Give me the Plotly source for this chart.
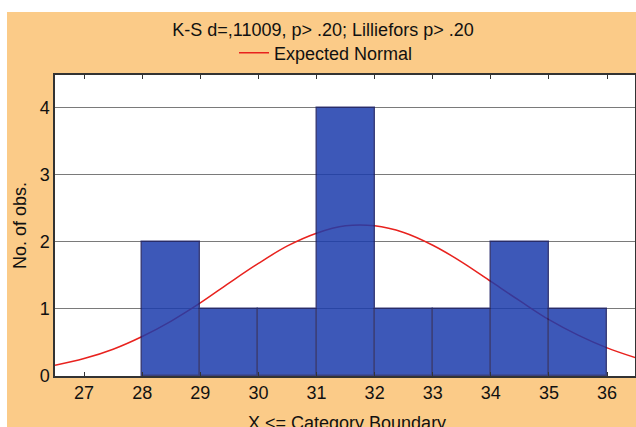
import plotly.graph_objects as go

# Histogram bins (upper category boundaries) and observed counts
bin_left = [28, 29, 30, 31, 32, 33, 34, 35]
counts = [2, 1, 1, 4, 1, 1, 2, 1]

# Expected normal curve
curve_x = [26.5, 27, 27.5, 28, 28.5, 29, 29.5, 30, 30.5, 31, 31.5,
           32, 32.5, 33, 33.5, 34, 34.5, 35, 35.5, 36, 36.5]
curve_y = [0.16, 0.26, 0.40, 0.59, 0.82, 1.09, 1.39, 1.68, 1.94, 2.13, 2.24,
           2.24, 2.14, 1.95, 1.70, 1.41, 1.12, 0.84, 0.61, 0.42, 0.27]

x_ticks = [27, 28, 29, 30, 31, 32, 33, 34, 35, 36]
y_ticks = [0, 1, 2, 3, 4]

title_text = "K-S d=,11009, p> .20; Lilliefors p> .20"
x_title = "X <= Category Boundary"

ORANGE = "#FBCB88"
FONT = "Liberation Sans, Arial, sans-serif"
X_RANGE = [26.5, 36.48]
Y_RANGE = [0, 4.49]

fig = go.Figure()

# curve on the main subplot (drawn first, below)
fig.add_trace(go.Scatter(
    x=curve_x, y=curve_y, mode="lines", name="Expected Normal",
    line=dict(color="#E8221E", width=1.5, shape="spline"),
))

# bars on an overlaying subplot so they sit above the curve (semi-transparent)
fig.add_trace(go.Bar(
    x=[b + 0.5 for b in bin_left], y=counts, width=1,
    xaxis="x2", yaxis="y2",
    marker=dict(color="rgb(28,60,172)", line=dict(color="#1A1F66", width=1.5)),
    opacity=0.85, showlegend=False,
))

L, R, T, B = 55, 1, 75, 51
W, H = 636, 427
pw, ph = W - L - R, H - T - B

# white strips at the top and left edges of the picture
fig.add_shape(type="rect", xref="paper", yref="paper", layer="below",
              x0=-L / pw - 0.01, x1=(W - L) / pw + 0.01,
              y0=1 + (T - 12) / ph, y1=1 + T / ph + 0.01,
              fillcolor="white", line=dict(width=0))
fig.add_shape(type="rect", xref="paper", yref="paper", layer="below",
              x0=-L / pw - 0.01, x1=(7 - L) / pw,
              y0=-B / ph - 0.01, y1=1 + T / ph + 0.01,
              fillcolor="white", line=dict(width=0))

# x-axis title, partly cut by the bottom edge as in the original
fig.add_annotation(text=x_title, xref="paper", yref="paper",
                   x=(347 - L) / pw, y=-(423 - (H - B)) / ph,
                   xanchor="center", yanchor="middle", showarrow=False,
                   font=dict(size=18, family=FONT, color="#111111"))

hidden = dict(showticklabels=False, showgrid=False, showline=False,
              zeroline=False, ticks="")

fig.update_layout(
    width=W, height=H,
    margin=dict(l=L, r=R, t=T, b=B, autoexpand=False),
    paper_bgcolor=ORANGE,
    plot_bgcolor="white",
    font=dict(family=FONT, color="#111111", size=17),
    bargap=0,
    title=dict(text=title_text, x=(323 - L) / pw, xref="paper", xanchor="center",
               y=1 - 30 / H, yanchor="middle",
               font=dict(size=18, family=FONT, color="#111111")),
    legend=dict(orientation="h", x=(326 - L) / pw, xanchor="center",
                y=1 + (T - 53) / ph, yanchor="middle",
                bgcolor="rgba(0,0,0,0)", font=dict(size=18),
                itemwidth=30),
    xaxis=dict(
        range=X_RANGE, tickvals=x_ticks, ticktext=[str(v) for v in x_ticks],
        ticks="inside", ticklen=4, tickcolor="#333333", mirror="ticks",
        showline=True, linecolor="#333333", linewidth=1.5,
        showgrid=False, zeroline=False,
        tickfont=dict(size=18),
    ),
    yaxis=dict(
        range=Y_RANGE, tickvals=y_ticks,
        ticks="", showline=True, linecolor="#333333", linewidth=1.5, mirror=True,
        showgrid=True, gridcolor="#7a7a7a", gridwidth=1, zeroline=False,
        title=dict(text="No. of obs.", standoff=8, font=dict(size=18)),
        tickfont=dict(size=18),
    ),
    xaxis2=dict(range=X_RANGE, overlaying="x", anchor="y2", **hidden),
    yaxis2=dict(range=Y_RANGE, overlaying="y", anchor="x2", **hidden),
)

fig.write_html("out.html")
